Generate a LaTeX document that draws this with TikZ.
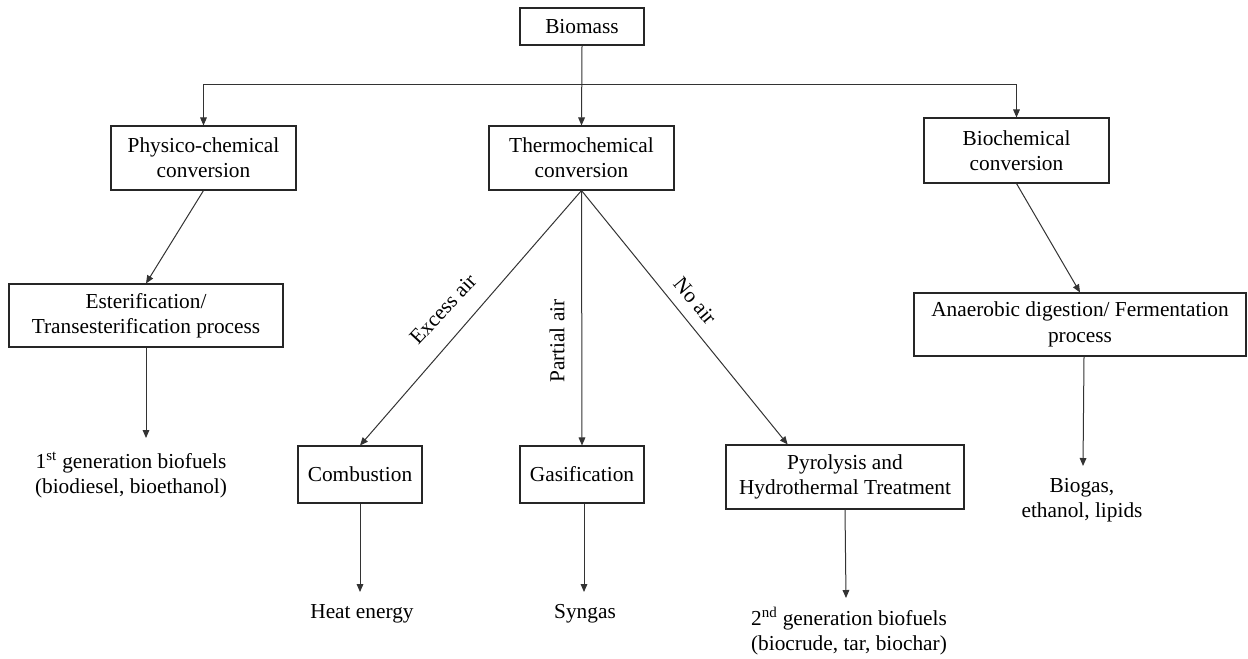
\documentclass[tikz,border=0pt]{standalone}
\usepackage{fontspec}
\setmainfont{Liberation Serif}
\usetikzlibrary{arrows.meta}
\begin{document}
\begin{tikzpicture}[x=0.75pt,y=-0.75pt,
  every node/.style={font=\fontsize{16}{19}\selectfont, align=center, inner sep=0pt},
  box/.style={draw=black!85, line width=0.8pt},
  conn/.style={draw=black!80, line width=0.75pt},
  arr/.style={conn, -{Triangle[length=6pt,width=5pt]}},
  lbl/.style={font=\fontsize{16}{19}\selectfont}]
\useasboundingbox (0,0) rectangle (1248,658);
% boxes
\node[box, minimum width=93pt, minimum height=27.75pt] (bio) at (582,26.5) {Biomass};
\node[box, minimum width=138.75pt, minimum height=48pt] (phys) at (203.5,158) {Physico-chemical\\conversion};
\node[box, minimum width=138.75pt, minimum height=48pt] (thermo) at (581.5,158) {Thermochemical\\conversion};
\node[box, minimum width=138.75pt, minimum height=48.75pt] (biochem) at (1016.5,150.5) {Biochemical\\conversion};
\node[box, minimum width=205.5pt, minimum height=47.25pt] (ester) at (146,315.5) {Esterification/\\Transesterification process};
\node[box, minimum width=249pt, minimum height=47.25pt] (anaer) at (1080,324.5) {Anaerobic digestion/ Fermentation\\process};
\node[box, minimum width=93pt, minimum height=42.75pt] (comb) at (360,474.5) {Combustion};
\node[box, minimum width=93pt, minimum height=42.75pt] (gas) at (582,474.5) {Gasification};
\node[box, minimum width=178.5pt, minimum height=48pt] (pyro) at (845,477) {Pyrolysis and\\Hydrothermal Treatment};
% output texts
\node (first) at (131,475) {1\textsuperscript{st} generation biofuels\\(biodiesel, bioethanol)};
\node (heat) at (362,614) {Heat energy};
\node (syn) at (585,614) {Syngas};
\node (second) at (849,631) {2\textsuperscript{nd} generation biofuels\\(biocrude, tar, biochar)};
\node (biogas) at (1082,500.5) {Biogas,\\ethanol, lipids};
% free ends
\coordinate (hl) at (203.5,84);
\coordinate (hr) at (1016.5,84);
\coordinate (t1) at (146,438);
\coordinate (t2) at (360,592);
\coordinate (t3) at (584,592);
\coordinate (t4) at (846,598);
\coordinate (t5) at (1083,466);
% connectors
\draw[arr] (bio.south) -- (thermo.north);
\draw[conn] (hl) -- (hr);
\draw[arr] (hl) -- (phys.north);
\draw[arr] (hr) -- (biochem.north);
\draw[arr] (phys.south) -- (ester.north);
\draw[arr] (ester.south) -- (t1);
\draw[arr] (biochem.south) -- (anaer.north);
\draw[arr] ([xshift=3pt]anaer.south) -- (t5);
\draw[arr] (thermo.south) -- (comb.north);
\draw[arr] (thermo.south) -- (gas.north);
\draw[arr] (thermo.south) -- ([xshift=-43pt]pyro.north);
\draw[arr] (comb.south) -- (t2);
\draw[arr] ([xshift=1.5pt]gas.south) -- (t3);
\draw[arr] (pyro.south) -- (t4);
% labels
\node[lbl, rotate=47] (lex) at (443,309) {Excess air};
\node[lbl, rotate=90] (lpa) at (557,341) {Partial air};
\node[lbl, rotate=-50] (lno) at (695,301) {No air};
\end{tikzpicture}
\end{document}
